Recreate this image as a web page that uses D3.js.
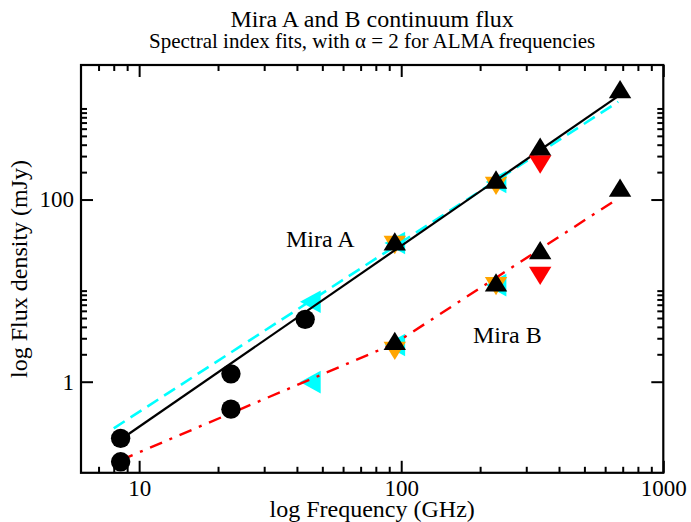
<!DOCTYPE html>
<html>
<head>
<meta charset="utf-8">
<script src="https://cdn.jsdelivr.net/npm/d3@7"></script>
<style>
  body { margin: 0; background: #fff; }
  text { font-family: "Liberation Serif", "Times New Roman", serif; fill: #000; }
</style>
</head>
<body>
<svg width="691" height="522"></svg>
<script>
// VLA points (black circles)
const vlaFreqA = [8.5, 22.4, 43];
const vlaA = [0.239, 1.22, 4.84];
const vlaFreqB = [8.5, 22.4];
const vlaB = [0.132, 0.50];

// cyan left triangles
const cyanFreq = [45, 94.5, 230];
const cyanA = [7.55, 33.3, 156];
const cyanB = [0.99, 2.53, 11.5];

// orange down triangles
const orangeFreq = [94.5, 230];
const orangeA = [31.7, 141];
const orangeB = [2.18, 11.2];

// black up triangles (ALMA)
const almaFreq = [94.5, 230, 339, 684];
const almaA = [34.8, 166, 382, 1633];
const almaB = [2.81, 12.3, 27.9, 135.5];

// red down triangles
const redFreq = [339];
const redA = [242];
const redB = [14.5];

// spectral index fits
const fitAFreq = [8.5, 673];
const fitA = [0.232, 1368];
const fitCyanFreq = [8, 673];
const fitCyan = [0.308, 1185];
const fitBFreq = [8.5, 94.5, 673];
const fitB = [0.1375, 2.63, 103];

// ticks
const xTicksMajor = [10, 100, 1000];
const xTicksMinor = [7, 8, 9, 20, 30, 40, 50, 60, 70, 80, 90, 200, 300, 400, 500, 600, 700, 800, 900];
const yTicksMajor = [1, 100];
const yTicksMinor = [2, 3, 4, 5, 6, 7, 8, 9, 10, 200, 300, 400, 500, 600, 700, 800, 900, 1000];

const width = 691, height = 522;
const margin = {top: 65, right: 27.7, bottom: 49.2, left: 81};
const w = width - margin.left - margin.right;
const h = height - margin.top - margin.bottom;

const svg = d3.select('svg');
const g = svg.append('g').attr('transform', `translate(${margin.left},${margin.top})`);

const x = d3.scaleLog().domain([6, 1000]).range([0, w]);
const y = d3.scaleLog().domain([0.1, 3000]).range([h, 0]);

// axes (ticks inward, IDL style)
function styleAxis(sel) {
  sel.select('.domain').remove();
  sel.selectAll('line').attr('stroke', '#000').attr('stroke-width', 2);
  sel.selectAll('text').attr('font-family', '"Liberation Serif", serif').attr('font-size', 23).attr('fill', '#000');
}

g.append('g').attr('transform', `translate(0,${h})`)
  .call(d3.axisBottom(x).tickValues(xTicksMinor).tickSize(-6).tickFormat(''))
  .call(styleAxis);
g.append('g').attr('transform', `translate(0,${h})`)
  .call(d3.axisBottom(x).tickValues(xTicksMajor).tickSize(-12).tickPadding(7).tickFormat(d3.format('d')))
  .call(styleAxis);
g.append('g')
  .call(d3.axisTop(x).tickValues(xTicksMinor).tickSize(-6).tickFormat(''))
  .call(styleAxis);
g.append('g')
  .call(d3.axisTop(x).tickValues(xTicksMajor).tickSize(-12).tickFormat(''))
  .call(styleAxis);

g.append('g')
  .call(d3.axisLeft(y).tickValues(yTicksMinor).tickSize(-6).tickFormat(''))
  .call(styleAxis);
g.append('g')
  .call(d3.axisLeft(y).tickValues(yTicksMajor).tickSize(-12).tickPadding(7).tickFormat(d3.format('d')))
  .call(styleAxis);
g.append('g').attr('transform', `translate(${w},0)`)
  .call(d3.axisRight(y).tickValues(yTicksMinor).tickSize(-6).tickFormat(''))
  .call(styleAxis);
g.append('g').attr('transform', `translate(${w},0)`)
  .call(d3.axisRight(y).tickValues(yTicksMajor).tickSize(-12).tickFormat(''))
  .call(styleAxis);

g.append('rect')
  .attr('width', w).attr('height', h)
  .attr('fill', 'none').attr('stroke', '#000').attr('stroke-width', 2.2);

// symbol shapes
const upTri = 'M0,-9.15L11.2,9.15L-11.2,9.15Z';
const downTri = 'M0,9.15L11.2,-9.15L-11.2,-9.15Z';
const leftTri = 'M-10.35,0L10.35,-11.3L10.35,11.3Z';

function points(freq, vals) {
  return freq.map((f, i) => ({f: f, v: vals[i]}));
}

function drawSymbols(data, shape, color) {
  g.append('g').selectAll('path')
    .data(data)
    .enter().append('path')
    .attr('d', shape)
    .attr('fill', color)
    .attr('transform', d => `translate(${x(d.f)},${y(d.v)})`);
}

const line = d3.line().x(d => x(d.f)).y(d => y(d.v));

drawSymbols(points(cyanFreq, cyanA).concat(points(cyanFreq, cyanB)), leftTri, '#00ffff');
drawSymbols(points(orangeFreq, orangeA).concat(points(orangeFreq, orangeB)), downTri, '#ffa500');

g.append('path')
  .datum(points(fitCyanFreq, fitCyan))
  .attr('d', line)
  .attr('fill', 'none').attr('stroke', '#00ffff').attr('stroke-width', 2.6)
  .attr('stroke-dasharray', '13,7');

g.append('path')
  .datum(points(fitAFreq, fitA))
  .attr('d', line)
  .attr('fill', 'none').attr('stroke', '#000').attr('stroke-width', 2.2);

g.append('path')
  .datum(points(fitBFreq, fitB))
  .attr('d', line)
  .attr('fill', 'none').attr('stroke', '#ff0000').attr('stroke-width', 2.4)
  .attr('stroke-dasharray', '13,8,3,8');

g.append('g').selectAll('circle')
  .data(points(vlaFreqA, vlaA).concat(points(vlaFreqB, vlaB)))
  .enter().append('circle')
  .attr('cx', d => x(d.f))
  .attr('cy', d => y(d.v))
  .attr('r', 9.7)
  .attr('fill', '#000');

drawSymbols(points(almaFreq, almaA).concat(points(almaFreq, almaB)), upTri, '#000');
drawSymbols(points(redFreq, redA).concat(points(redFreq, redB)), downTri, '#ff0000');

// labels
svg.append('text')
  .attr('x', margin.left + w / 2).attr('y', 27)
  .attr('text-anchor', 'middle').attr('font-size', 24)
  .text('Mira A and B continuum flux');
svg.append('text')
  .attr('x', margin.left + w / 2).attr('y', 48)
  .attr('text-anchor', 'middle').attr('font-size', 21)
  .text('Spectral index fits, with α = 2 for ALMA frequencies');

svg.append('text')
  .attr('x', margin.left + w / 2).attr('y', 517)
  .attr('text-anchor', 'middle').attr('font-size', 24)
  .text('log Frequency (GHz)');
svg.append('text')
  .attr('transform', `translate(27,${margin.top + h / 2}) rotate(-90)`)
  .attr('text-anchor', 'middle').attr('font-size', 24)
  .text('log Flux density (mJy)');

svg.append('text')
  .attr('x', 286).attr('y', 247).attr('font-size', 24)
  .text('Mira A');
svg.append('text')
  .attr('x', 473).attr('y', 343).attr('font-size', 24)
  .text('Mira B');
</script>
</body>
</html>
